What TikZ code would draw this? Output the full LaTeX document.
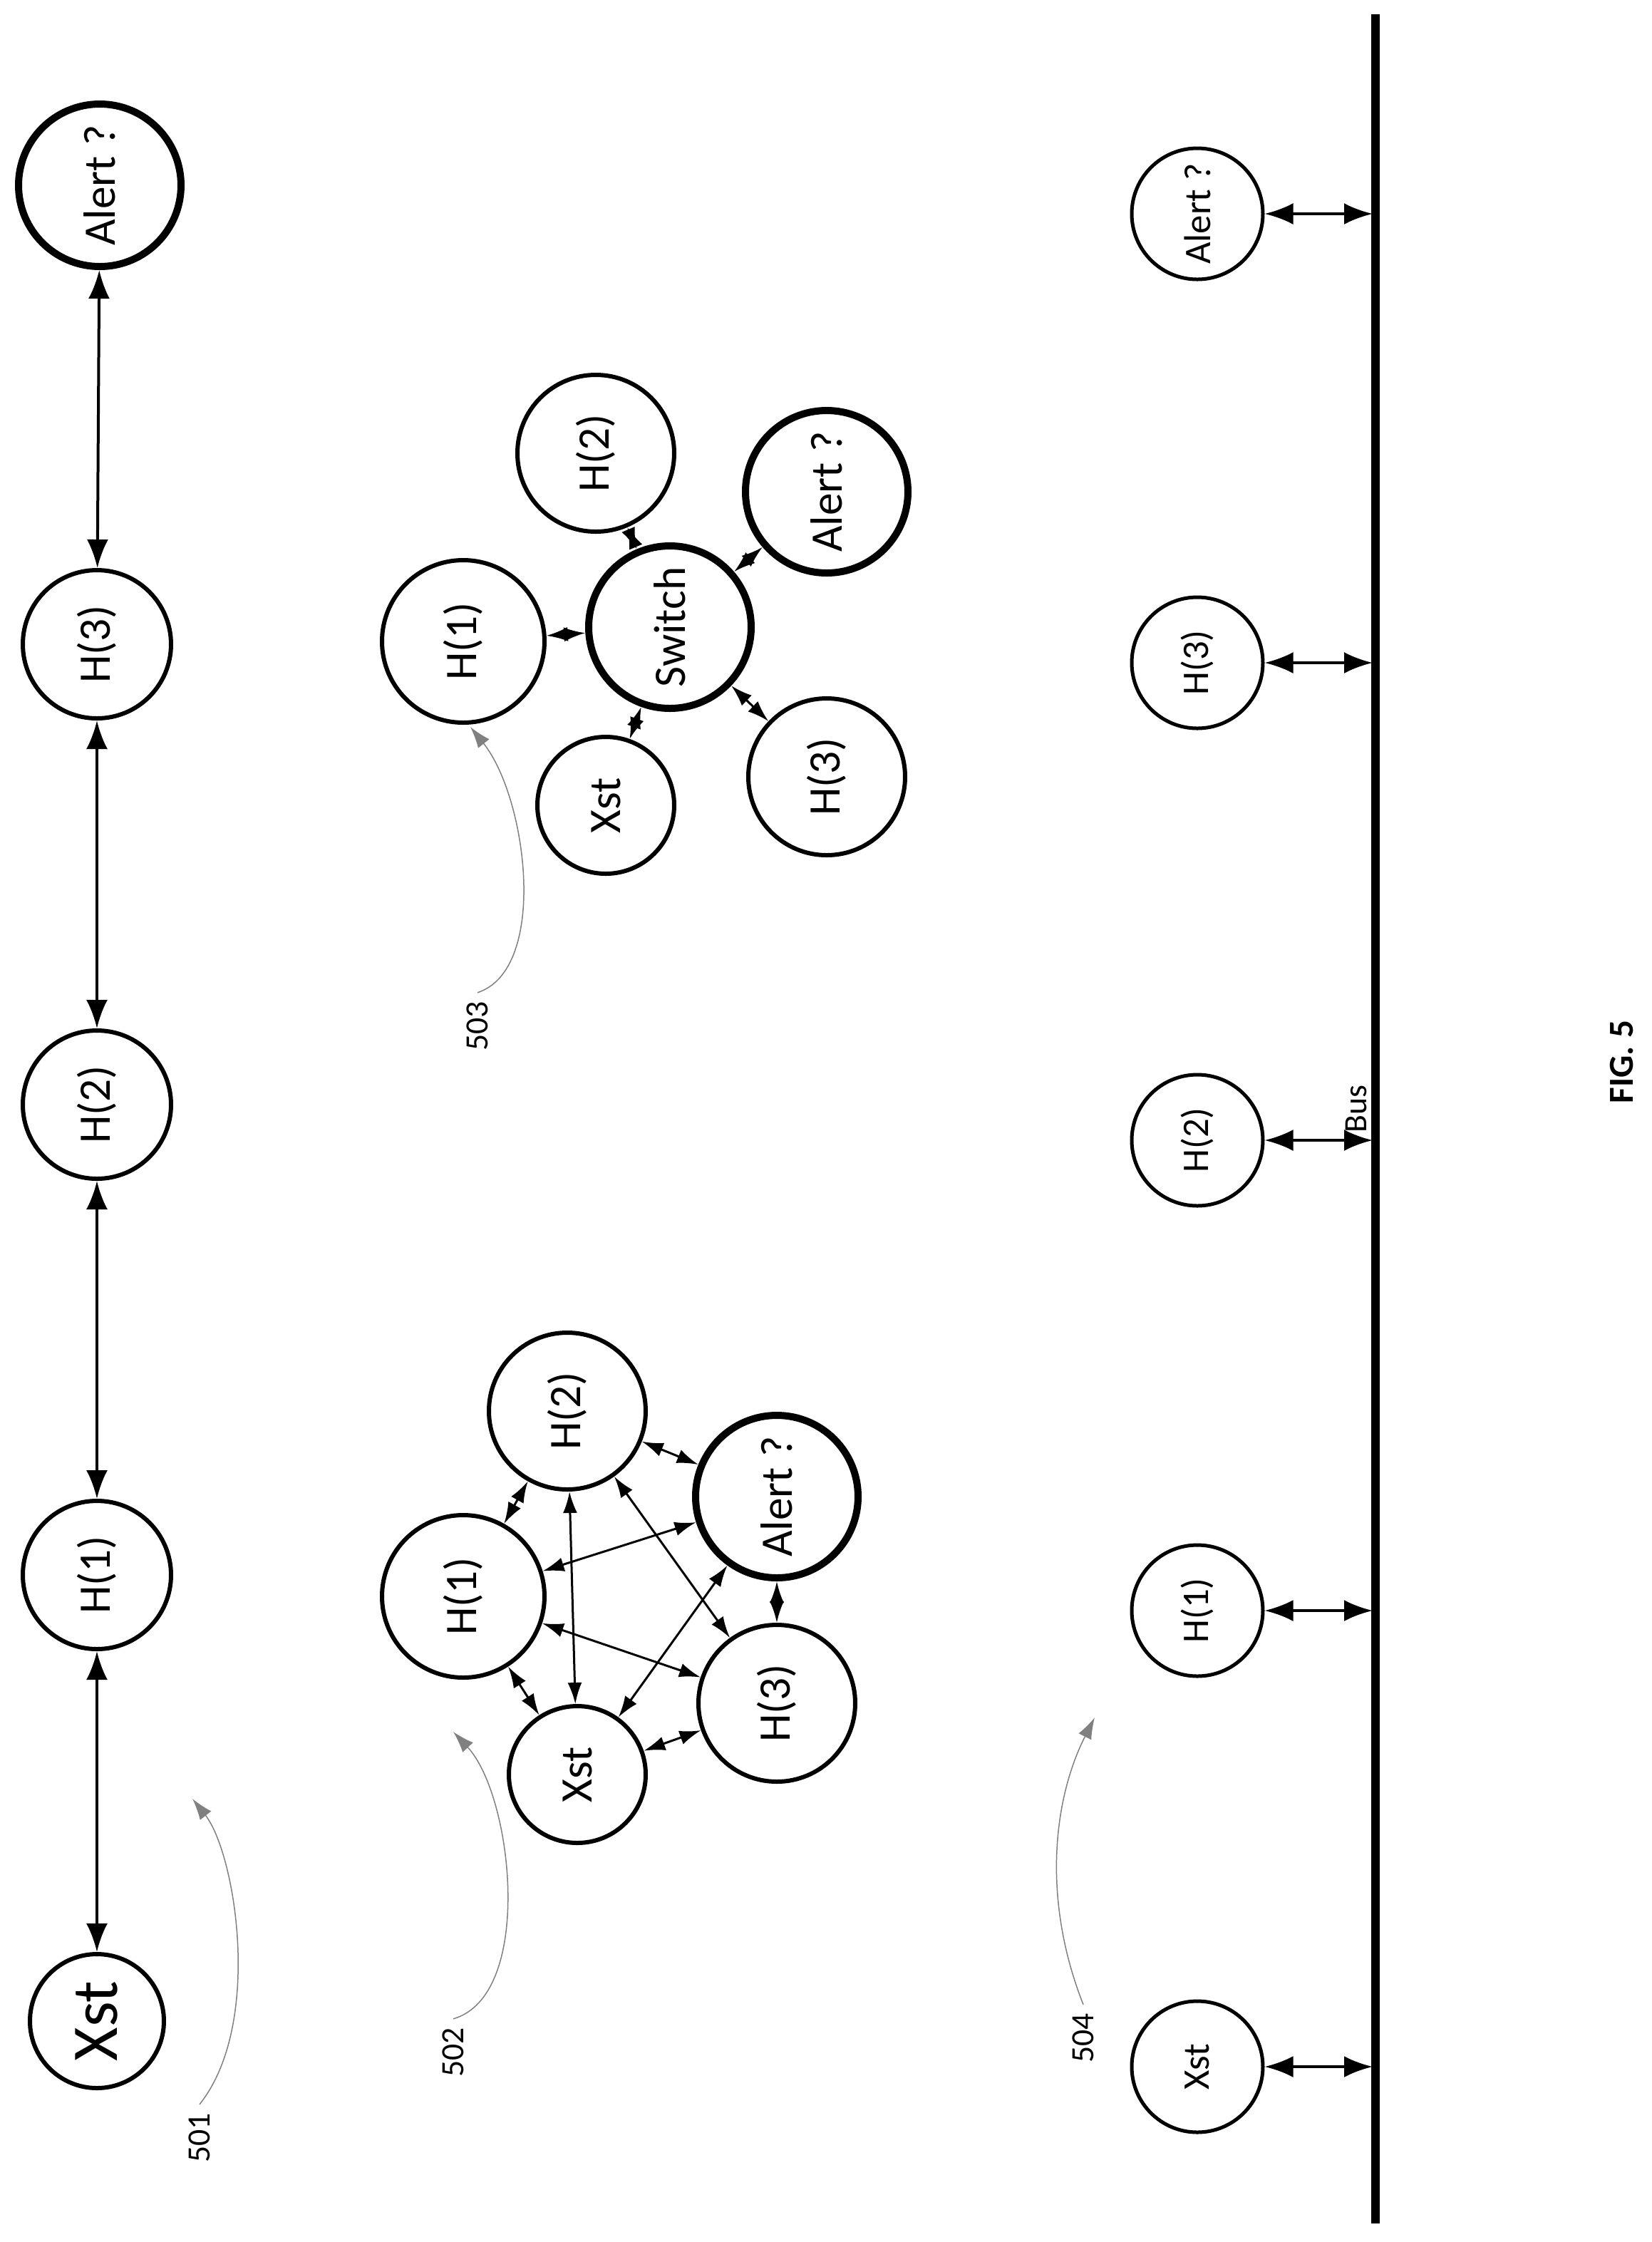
\documentclass[tikz,border=0pt]{standalone}
\usepackage{fontspec}
\setmainfont{Carlito}
\usetikzlibrary{arrows.meta}
\begin{document}
\begin{tikzpicture}[x=0.2mm, y=-0.2mm,
    hostnode/.style={circle, draw, line width=0.6mm, inner sep=0pt, minimum size=#1*0.2mm, font=\fontsize{18}{20}\selectfont, rotate=90},
    hostnode/.default=104,
    mainnode/.style={hostnode=#1, line width=1mm},
    link/.style={{Latex[length=4mm,width=3mm]}-{Latex[length=4mm,width=3mm]}, line width=0.4mm},
    mesh/.style={{Latex[length=3mm,width=2mm]}-{Latex[length=3mm,width=2mm]}, line width=0.3mm},
    callout/.style={gray, line width=0.15mm, -{Latex[length=3mm,width=2mm]}},
    reflabel/.style={rotate=90, font=\fontsize{13}{15}\selectfont}]
    \useasboundingbox (0,0) rectangle (1159,1573);

    % chain 501
    \node[hostnode=94, font=\fontsize{26}{28}\selectfont] (cx) at (68,1418) {Xst};
    \node[hostnode] (c1) at (68,1105) {H(1)};
    \node[hostnode] (c2) at (68,775) {H(2)};
    \node[hostnode] (c3) at (68,452) {H(3)};
    \node[mainnode=114] (ca) at (70,130) {Alert ?};
    \foreach \a/\b in {cx/c1, c1/c2, c2/c3, c3/ca}
        \draw[link] (\a) -- (\b);
    \node[reflabel] (l501) at (140,1500) {501};
    \coordinate (t501) at (135,1262);
    \draw[callout] (l501.east) .. controls (185,1420) and (165,1300) .. (t501);

    % mesh 502
    \node[hostnode=114] (m1) at (325,1120) {H(1)};
    \node[hostnode=110] (m2) at (398,990) {H(2)};
    \node[mainnode=114] (ma) at (545,1050) {Alert ?};
    \node[hostnode=110] (m3) at (545,1195) {H(3)};
    \node[hostnode=96] (mx) at (405,1245) {Xst};
    \foreach \a/\b in {m1/m2, m1/ma, m1/m3, m1/mx, m2/ma, m2/m3, m2/mx, ma/m3, ma/mx, m3/mx}
        \draw[mesh] (\a) -- (\b);
    \node[reflabel] (l502) at (318,1440) {502};
    \coordinate (t502) at (318,1215);
    \draw[callout] (l502.east) .. controls (375,1400) and (360,1260) .. (t502);

    % star 503
    \node[mainnode=114] (sw) at (470,440) {Switch};
    \node[hostnode=114] (s1) at (325,450) {H(1)};
    \node[hostnode=110] (s2) at (418,318) {H(2)};
    \node[mainnode=114] (sa) at (580,345) {Alert ?};
    \node[hostnode=110] (s3) at (580,545) {H(3)};
    \node[hostnode=96] (sx) at (425,565) {Xst};
    \foreach \a in {s1, s2, sa, s3, sx}
        \draw[mesh] (sw) -- (\a);
    \node[reflabel] (l503) at (335,720) {503};
    \coordinate (t503) at (330,510);
    \draw[callout] (l503.east) .. controls (385,680) and (370,560) .. (t503);

    % bus 504
    \draw[line width=1.2mm] (965,10) -- (965,1560);
    \foreach \n/\y/\t in {bx/1450/Xst, b1/1130/H(1), b2/800/H(2), b3/465/H(3), ba/150/Alert ?} {
        \node[hostnode=92, line width=0.5mm, font=\fontsize{15}{17}\selectfont] (\n) at (840,\y) {\t};
        \coordinate (\n p) at (963,\y);
        \draw[link] (\n) -- (\n p);
    }
    \node[reflabel, anchor=south] (bus) at (965,778) {Bus};
    \node[reflabel] (l504) at (760,1430) {504};
    \coordinate (t504) at (768,1205);
    \draw[callout] (l504.east) .. controls (730,1330) and (740,1260) .. (t504);

    \node[rotate=90, font=\bfseries\fontsize{14}{16}\selectfont] (fig) at (1138,745) {FIG. 5};
\end{tikzpicture}
\end{document}
